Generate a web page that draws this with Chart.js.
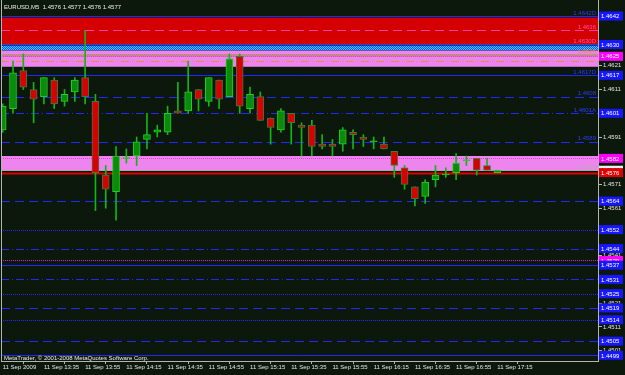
<!DOCTYPE html>
<html>
<head>
<meta charset="utf-8">
<script src="https://cdn.jsdelivr.net/npm/chart.js@4.4.0/dist/chart.umd.min.js"></script>
<style>
  html, body { margin: 0; padding: 0; background: #0c180c; }
  canvas { display: block; }
</style>
</head>
<body>
<canvas id="chart" width="625" height="375"></canvas>
<script>
const symbolTitle = 'EURUSD,M5  1.4576 1.4577 1.4576 1.4577';
const copyright = 'MetaTrader, \u00a9 2001-2008 MetaQuotes Software Corp.';

// one label every 4 bars (20 min)
const timeLabels = ['11 Sep 2009', '11 Sep 13:35', '11 Sep 13:55', '11 Sep 14:15', '11 Sep 14:35',
  '11 Sep 14:55', '11 Sep 15:15', '11 Sep 15:35', '11 Sep 15:55', '11 Sep 16:15',
  '11 Sep 16:35', '11 Sep 16:55', '11 Sep 17:15'];

const opens = [1.4594, 1.4603, 1.4619, 1.4611, 1.4608, 1.4615, 1.4606, 1.4610, 1.4616, 1.4606,
  1.4575, 1.4568, 1.4582, 1.4583, 1.4590, 1.4593, 1.4593, 1.4602, 1.4602, 1.4611,
  1.4606, 1.4615, 1.4608, 1.4625, 1.4603, 1.4608, 1.4599, 1.4594, 1.4601, 1.4596,
  1.4596, 1.4588, 1.4588, 1.4588, 1.4593, 1.4591, 1.4589, 1.4588, 1.4585, 1.4578,
  1.4570, 1.4566, 1.4573, 1.4575, 1.4576, 1.4581, 1.4582, 1.4579, 1.4576];
const highs = [1.4605, 1.4623, 1.4626, 1.4614, 1.4616, 1.4616, 1.4611, 1.4616, 1.4636, 1.4609,
  1.4579, 1.4587, 1.4586, 1.4591, 1.4601, 1.4596, 1.4604, 1.4614, 1.4623, 1.4611,
  1.4616, 1.4615, 1.4626, 1.4626, 1.4612, 1.4610, 1.4599, 1.4603, 1.4601, 1.4597,
  1.4598, 1.4592, 1.4590, 1.4595, 1.4594, 1.4592, 1.4591, 1.4591, 1.4585, 1.4579,
  1.4570, 1.4573, 1.4579, 1.4578, 1.4584, 1.4583, 1.4582, 1.4582, 1.4577];
const lows = [1.4593, 1.4601, 1.4611, 1.4597, 1.4605, 1.4603, 1.4604, 1.4606, 1.4605, 1.4560,
  1.4561, 1.4556, 1.4580, 1.4579, 1.4586, 1.4591, 1.4592, 1.4601, 1.4601, 1.4602,
  1.4604, 1.4603, 1.4608, 1.4601, 1.4601, 1.4598, 1.4588, 1.4593, 1.4588, 1.4583,
  1.4583, 1.4586, 1.4583, 1.4585, 1.4586, 1.4587, 1.4586, 1.4586, 1.4574, 1.4569,
  1.4562, 1.4563, 1.4570, 1.4574, 1.4573, 1.4579, 1.4575, 1.4577, 1.4576];
const closes = [1.4604, 1.4618, 1.4612, 1.4607, 1.4616, 1.4605, 1.4609, 1.4615, 1.4608, 1.4576,
  1.4569, 1.4583, 1.4582, 1.4589, 1.4592, 1.4594, 1.4601, 1.4601, 1.4610, 1.4607,
  1.4616, 1.4607, 1.4624, 1.4604, 1.4609, 1.4598, 1.4595, 1.4602, 1.4597, 1.4595,
  1.4587, 1.4587, 1.4587, 1.4594, 1.4592, 1.4590, 1.4589, 1.4586, 1.4579, 1.4571,
  1.4565, 1.4572, 1.4575, 1.4575, 1.4580, 1.4581, 1.4577, 1.4577, 1.4577];

const priceTicks = [1.4641, 1.4631, 1.4621, 1.4611, 1.4601, 1.4591, 1.4581, 1.4571,
  1.4561, 1.4551, 1.4541, 1.4531, 1.4521, 1.4511, 1.4501];

// rectangles (low, high)
const zoneLows  = [1.46300, 1.46275, 1.46206, 1.45767];
const zoneHighs = [1.46413, 1.46295, 1.46274, 1.45830];
const zoneFills = ['#d40000', 'checker', '#ee84ee', '#ee84ee'];

// horizontal lines
const levelPrices = [1.4642, 1.4636, 1.4630, 1.46257, 1.4625, 1.4623, 1.4617, 1.4608, 1.4601,
  1.4589, 1.4582, 1.4577, 1.4576, 1.4564, 1.4552, 1.4544, 1.4539, 1.4537, 1.4531,
  1.4525, 1.4519, 1.4514, 1.4505, 1.4499];
const levelColours = ['#2028ff', '#ff3f9f', '#2a3cff', '#bf8a80', '#e040e0', '#e8902a', '#2028ff', '#2028ff', '#2028ff',
  '#2028ff', '#e040e0', '#a8a8a8', '#e00000', '#2028ff', '#2028ff', '#2028ff', '#d020d0', '#2028ff', '#2028ff',
  '#2028ff', '#2028ff', '#2028ff', '#2028ff', '#2028ff'];
const levelKinds = ['solid', 'dash', 'solid', 'thick', 'dot', 'dashdot', 'solid', 'dash', 'dashdot',
  'dash', 'dot', 'solid', 'bid', 'dash', 'dot', 'dashdot', 'dot', 'solid', 'dashdot',
  'dot', 'dash', 'dot', 'dash', 'solid'];
const dashes = { solid: [], thick: [], bid: [], dash: [9, 5], dot: [1, 1], dashdot: [8, 3, 1, 3] };

// descriptions written at the right end of some lines
const notePrices = [1.4642, 1.4636, 1.4630, 1.4626, 1.4617, 1.4608, 1.4601, 1.4589, 1.4577];
const noteTexts = ['1.4642D', '1.4636', '1.4630D', '1.4626', '1.4617D', '1.4608', '1.4601A', '1.4589', '1.4578'];
const noteColours = ['#2a3cff', '#ff4fa8', '#ff4fb8', '#e8902a', '#2a3cff', '#2a3cff', '#2a3cff', '#2a3cff', '#b0b0b0'];

// price tags on the right scale
const tagPrices = [1.4642, 1.4630, 1.4625, 1.4617, 1.4601, 1.4582, 1.4577, 1.4576, 1.4564, 1.4552,
  1.4544, 1.4539, 1.4537, 1.4531, 1.4525, 1.4519, 1.4514, 1.4505, 1.4499];
const tagColours = ['#1616ff', '#1616ff', '#ff00ff', '#1616ff', '#1616ff', '#ff00ff', '#f0f0f0', '#e00000', '#1616ff', '#1616ff',
  '#1616ff', '#ff00ff', '#1616ff', '#1616ff', '#1616ff', '#1616ff', '#1616ff', '#1616ff', '#1616ff'];

const bg = '#0c180c';
const frame = '#b4b4b4';
const font = "'Liberation Sans', Arial, sans-serif";

function checker(ctx) {
  const pc = document.createElement('canvas');
  pc.width = 2; pc.height = 2;
  const p = pc.getContext('2d');
  p.fillStyle = '#2050ff'; p.fillRect(0, 0, 2, 2);
  p.fillStyle = '#38c8ff'; p.fillRect(0, 0, 1, 1); p.fillRect(1, 1, 1, 1);
  return ctx.createPattern(pc, 'repeat');
}

const mtDecor = {
  id: 'mtDecor',
  beforeDraw(chart) {
    const ctx = chart.ctx;
    ctx.save();
    ctx.fillStyle = bg;
    ctx.fillRect(0, 0, chart.width, chart.height);
    ctx.restore();
  },
  beforeDatasetsDraw(chart) {
    const { ctx, chartArea: a, scales: { y } } = chart;
    ctx.save();
    ctx.beginPath();
    ctx.rect(a.left, a.top, a.right - a.left, a.bottom - a.top);
    ctx.clip();
    zoneLows.forEach((lo, i) => {
      const y1 = y.getPixelForValue(zoneHighs[i]);
      const y2 = y.getPixelForValue(lo);
      ctx.fillStyle = zoneFills[i] === 'checker' ? checker(ctx) : zoneFills[i];
      ctx.fillRect(a.left, y1, a.right - a.left, y2 - y1);
    });
    levelPrices.forEach((p, i) => {
      const kind = levelKinds[i];
      const py = Math.round(y.getPixelForValue(p)) + 0.5;
      ctx.strokeStyle = levelColours[i];
      ctx.lineWidth = kind === 'thick' ? 2.5 : kind === 'bid' ? 2 : 1;
      ctx.setLineDash(dashes[kind]);
      ctx.beginPath();
      ctx.moveTo(a.left, py);
      ctx.lineTo(a.right, py);
      ctx.stroke();
    });
    ctx.setLineDash([]);
    ctx.font = '6px ' + font;
    ctx.textAlign = 'right';
    ctx.textBaseline = 'bottom';
    notePrices.forEach((p, i) => {
      ctx.fillStyle = noteColours[i];
      ctx.fillText(noteTexts[i], a.right - 2, y.getPixelForValue(p));
    });
    ctx.restore();
  },
  afterDraw(chart) {
    const { ctx, chartArea: a, scales: { y } } = chart;
    ctx.save();
    // left frame line
    ctx.strokeStyle = frame;
    ctx.lineWidth = 1;
    ctx.beginPath();
    ctx.moveTo(a.left + 0.5, a.top);
    ctx.lineTo(a.left + 0.5, a.bottom);
    ctx.stroke();

    ctx.font = '6px ' + font;
    ctx.textBaseline = 'middle';
    ctx.textAlign = 'left';
    tagPrices.forEach((p, i) => {
      const py = y.getPixelForValue(p);
      ctx.fillStyle = tagColours[i];
      ctx.fillRect(a.right + 1, py - 4.5, 24, 9);
      ctx.fillStyle = tagColours[i] === '#f0f0f0' ? '#000000' : '#ffffff';
      ctx.fillText(p.toFixed(4), a.right + 3, py + 0.5);
    });

    ctx.fillStyle = '#eeeeee';
    ctx.fillText(symbolTitle, a.left + 3, a.top + 7);
    ctx.fillText(copyright, a.left + 3, a.bottom - 3);
    ctx.restore();
  }
};

const bull = '#0b8a0b', bullEdge = '#1fd01f', bear = '#d80000', bearEdge = '#3c7a3c', wick = '#14b414';
const candleFill = i => closes[i] > opens[i] ? bull : closes[i] < opens[i] ? bear : bullEdge;
const candleEdge = i => closes[i] >= opens[i] ? bullEdge : bearEdge;

new Chart(document.getElementById('chart'), {
  type: 'bar',
  data: {
    datasets: [{
      label: 'bodies',
      data: opens.map((o, i) => ({ x: i, y: [o, closes[i]] })),
      backgroundColor: c => candleFill(c.dataIndex),
      borderColor: c => candleEdge(c.dataIndex),
      borderWidth: 1,
      borderSkipped: false,
      barThickness: 7,
      minBarLength: 1,
      grouped: false,
      order: 0
    }, {
      label: 'wicks',
      data: lows.map((l, i) => ({ x: i, y: [l, highs[i]] })),
      backgroundColor: wick,
      borderWidth: 0,
      barThickness: 1,
      grouped: false,
      order: 1
    }]
  },
  options: {
    responsive: false,
    animation: false,
    devicePixelRatio: 1,
    layout: { padding: { left: 1, top: 0, right: 0, bottom: 0 } },
    plugins: { legend: { display: false }, tooltip: { enabled: false } },
    scales: {
      x: {
        type: 'linear',
        offset: false,
        min: -0.165,
        max: 57.77,
        afterBuildTicks: s => { s.ticks = timeLabels.map((_, k) => ({ value: k * 4 })); },
        afterFit: s => { s.height = 14; s.paddingLeft = 0; s.paddingRight = 0; },
        ticks: {
          autoSkip: false,
          maxRotation: 0,
          align: 'start',
          padding: 0,
          color: '#e4e4e4',
          font: { size: 6, family: font },
          callback: v => timeLabels[Math.round(v / 4)]
        },
        grid: { drawOnChartArea: false, tickLength: 3, color: frame },
        border: { color: frame }
      },
      y: {
        position: 'right',
        min: 1.449662,
        max: 1.464874,
        afterBuildTicks: s => { s.ticks = priceTicks.map(v => ({ value: v })); },
        afterFit: s => { s.width = 27; s.paddingTop = 0; s.paddingBottom = 0; },
        ticks: {
          padding: 1,
          color: '#e4e4e4',
          font: { size: 6, family: font },
          callback: v => v.toFixed(4)
        },
        grid: { drawOnChartArea: false, tickLength: 4, color: frame },
        border: { color: frame }
      }
    }
  },
  plugins: [mtDecor]
});
</script>
</body>
</html>
